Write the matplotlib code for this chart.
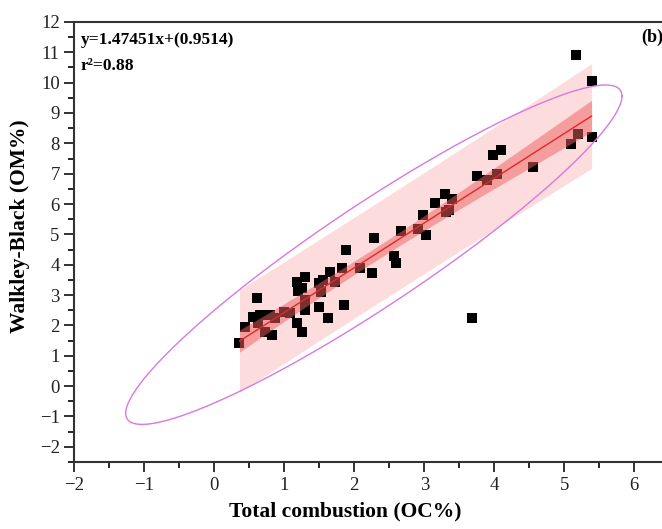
import numpy as np
import matplotlib.pyplot as plt
from matplotlib.ticker import MultipleLocator

# total combustion OC% vs Walkley-Black OM%
oc = [0.36, 0.44, 0.61, 0.56, 0.65, 0.72, 0.80, 0.87, 0.72, 0.82,
      0.63, 0.99, 1.08, 1.18, 1.25, 1.30, 1.30, 1.20, 1.18, 1.30,
      1.25, 1.49, 1.63, 1.49, 1.56, 1.53, 1.65, 1.72, 1.82, 1.86,
      1.88, 2.08, 2.25, 2.28, 2.57, 2.59, 2.67, 2.91, 3.02, 2.98,
      3.15, 3.30, 3.39, 3.31, 3.36, 3.75, 3.89, 4.04, 3.98, 4.09,
      4.56, 5.10, 5.19, 5.39, 5.39, 5.17, 3.68]
om = [1.41, 1.96, 2.90, 2.29, 2.35, 2.35, 2.35, 2.24, 1.79, 1.69,
      2.07, 2.45, 2.40, 2.07, 1.79, 2.51, 2.84, 3.12, 3.44, 3.61,
      3.22, 2.62, 2.24, 3.39, 3.50, 3.11, 3.77, 3.44, 3.88, 2.67,
      4.49, 3.88, 3.72, 4.87, 4.29, 4.07, 5.12, 5.18, 4.98, 5.64,
      6.02, 6.33, 6.16, 5.75, 5.80, 6.93, 6.79, 6.99, 7.62, 7.78,
      7.21, 7.97, 8.31, 8.22, 10.07, 10.91, 2.25]

slope = 1.47451
intercept = 0.9514
r2_text = "0.88"
T95 = 2.003             # t(0.975, n-2)
K_ELL = np.sqrt(5.991)  # chi2(2, 0.95)

x = np.array(oc)
y = np.array(om)
n = len(x)

plt.rcParams['font.family'] = ['Liberation Serif', 'DejaVu Serif']

fig = plt.figure(figsize=(6.62, 5.29), dpi=100)
ax = fig.add_axes([0.1122, 0.1267, 0.8882, 0.8318])

# regression bands
xs = np.linspace(x.min(), x.max(), 200)
yfit = slope * xs + intercept
resid = y - (slope * x + intercept)
s = np.sqrt(np.sum(resid ** 2) / (n - 2))
sxx = np.sum((x - x.mean()) ** 2)
conf = T95 * s * np.sqrt(1.0 / n + (xs - x.mean()) ** 2 / sxx)
pred = T95 * s * np.sqrt(1 + 1.0 / n + (xs - x.mean()) ** 2 / sxx)

ax.fill_between(xs, yfit - pred, yfit + pred, color='#fcdcdc',
                linewidth=0, zorder=1)
ax.scatter(x, y, marker='s', s=52, color='black', zorder=2, linewidths=0)
ax.fill_between(xs, yfit - conf, yfit + conf, color='#f06060', alpha=0.5,
                linewidth=0, zorder=4)
ax.plot(xs, yfit, color='#e02828', lw=1.0, zorder=5)

# 95% confidence ellipse
cov = np.cov(x, y)
L = np.linalg.cholesky(cov)
t = np.linspace(0, 2 * np.pi, 300)
circ = np.vstack([np.cos(t), np.sin(t)])
ell = L @ circ * K_ELL
ax.plot(ell[0] + x.mean(), ell[1] + y.mean(), color='#d878e0', lw=1.0, zorder=6)

ax.set_xlim(-2, 6.4)
ax.set_ylim(-2.5, 12)
ax.xaxis.set_major_locator(MultipleLocator(1))
ax.xaxis.set_minor_locator(MultipleLocator(0.5))
ax.yaxis.set_major_locator(MultipleLocator(1))
ax.yaxis.set_minor_locator(MultipleLocator(0.5))
ax.tick_params(which='major', direction='out', length=7, width=1.3,
               labelsize=13.5, colors='#222222')
ax.tick_params(which='minor', direction='out', length=4, width=1.2)
for sp in ax.spines.values():
    sp.set_linewidth(1.5)
    sp.set_color('#333333')
ax.spines['right'].set_visible(False)

ax.set_xlabel('Total combustion (OC%)', fontsize=15.5, fontweight='bold')
ax.set_ylabel('Walkley-Black (OM%)', fontsize=15.5, fontweight='bold')
ax.xaxis.set_label_coords((345 - 74.3) / 588, -0.09)
ax.yaxis.set_label_coords(-0.0753, 0.536)

ax.text(0.011, 0.978, 'y=1.47451x+(0.9514)', transform=ax.transAxes,
        fontsize=12.5, fontweight='bold', va='top', ha='left')
ax.text(0.011, 0.918, 'r²=' + r2_text, transform=ax.transAxes,
        fontsize=12.5, fontweight='bold', va='top', ha='left')
fig.text(0.968, 0.93, '(b)', fontsize=13, fontweight='bold', va='center', ha='left')

fig.savefig('out.png', dpi=100)
